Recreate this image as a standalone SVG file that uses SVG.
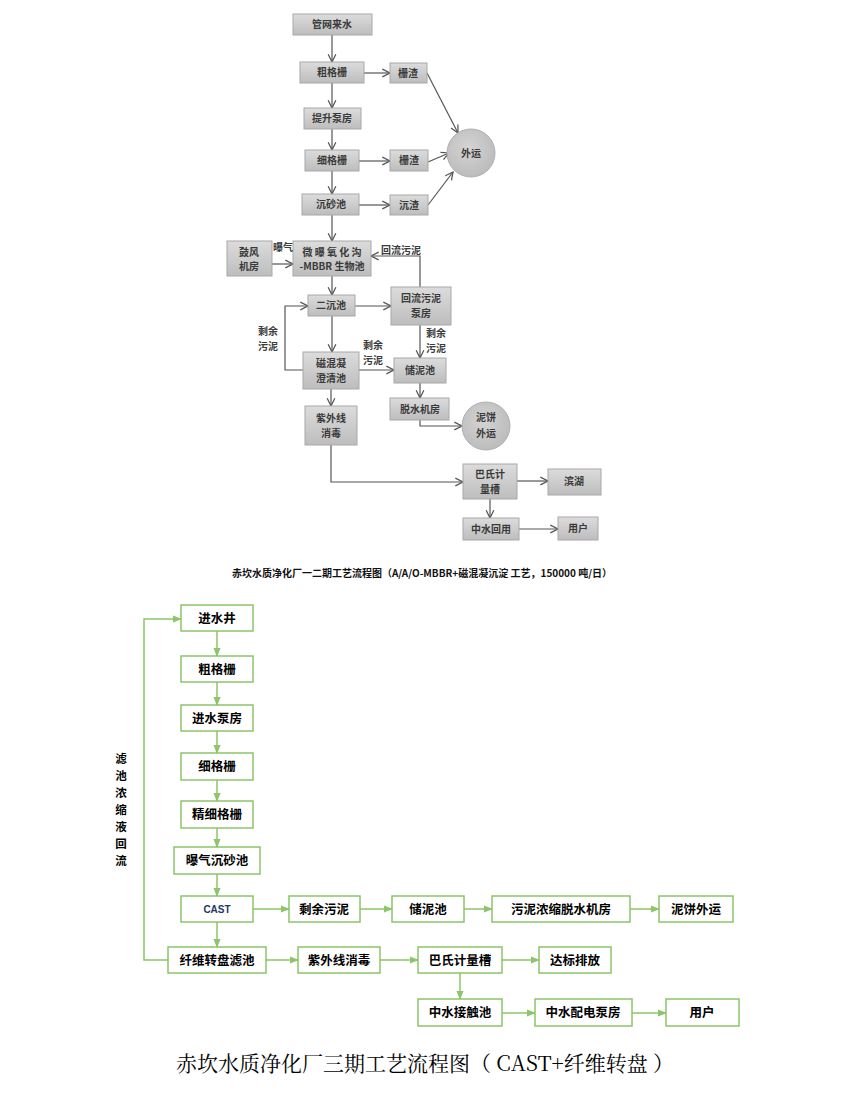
<svg xmlns="http://www.w3.org/2000/svg" width="858" height="1120" viewBox="0 0 858 1120">
<defs>
<linearGradient id="g" x1="0" y1="0" x2="0" y2="1"><stop offset="0" stop-color="#dcdcdc"/><stop offset="1" stop-color="#bdbdbd"/></linearGradient>
<radialGradient id="rg" cx="0.45" cy="0.4" r="0.6"><stop offset="0" stop-color="#d4d4d4"/><stop offset="1" stop-color="#bcbcbc"/></radialGradient>
<marker id="ag" viewBox="0 0 10 10" refX="9" refY="5" markerWidth="8" markerHeight="8" orient="auto"><path d="M1,1 L9,5 L1,9" fill="none" stroke="#555" stroke-width="1.3"/></marker>
<marker id="an" viewBox="0 0 10 10" refX="9" refY="5" markerWidth="6" markerHeight="6" orient="auto"><path d="M0,1 L10,5 L0,9 Z" fill="#8cc56a"/></marker>
</defs>
<style>
.b{fill:url(#g);stroke:#a8a8a8;stroke-width:1}
.c{fill:url(#rg);stroke:#b0b0b0}
.t{font-family:"Noto Sans CJK SC","Liberation Sans",sans-serif;font-size:10px;font-weight:bold;fill:#3a3a3a;text-anchor:middle}
.l{fill:none;stroke:#555;stroke-width:1.2;marker-end:url(#ag)}
.gb{fill:#fff;stroke:#8cc56a;stroke-width:1.5}
.gt{font-family:"Noto Sans CJK SC","Liberation Sans",sans-serif;font-size:12.5px;font-weight:bold;fill:#000;text-anchor:middle}
.gl{fill:none;stroke:#8cc56a;stroke-width:1.5;marker-end:url(#an)}
</style>
<g id="connectors-top">
<path class="l" d="M332,35 V62"/><path class="l" d="M332,83 V108"/><path class="l" d="M332,129 V150"/><path class="l" d="M332,171 V194"/><path class="l" d="M332,215 V241"/>
<path class="l" d="M364,73 H390"/><path class="l" d="M359,161 H390"/><path class="l" d="M359,205 H390"/>
<path class="l" d="M427,73 L458,133"/><path class="l" d="M428,162 L449,153"/><path class="l" d="M428,205 L453,172"/>
<path class="l" d="M272,264 H293"/><path class="l" d="M420,287 V256 H371"/>
<path class="l" d="M332,276 V295"/><path class="l" d="M355,306 H391"/><path class="l" d="M332,316 V352"/>
<path class="l" d="M303,370 H285 V306 H308"/><path class="l" d="M359,370 H394"/><path class="l" d="M420,325 V358"/>
<path class="l" d="M420,383 V398"/><path class="l" d="M420,420 V426 H462"/><path class="l" d="M331,389 V406"/>
<path class="l" d="M331,445 V482 H463"/><path class="l" d="M517,481 H548"/><path class="l" d="M490,499 V518"/><path class="l" d="M519,529 H558"/>
</g>
<g id="n-gwls"><rect class="b" x="293" y="14" width="79" height="21"/><text class="t" x="332" y="28">管网来水</text></g>
<g id="n-cgs"><rect class="b" x="300" y="62" width="64" height="21"/><text class="t" x="332" y="76">粗格栅</text></g>
<g id="n-zz1"><rect class="b" x="390" y="63" width="37" height="20"/><text class="t" x="408" y="77">栅渣</text></g>
<g id="n-tsbf"><rect class="b" x="304" y="108" width="57" height="21"/><text class="t" x="332" y="122">提升泵房</text></g>
<g id="n-xgs"><rect class="b" x="305" y="150" width="54" height="21"/><text class="t" x="332" y="164">细格栅</text></g>
<g id="n-zz2"><rect class="b" x="390" y="150" width="38" height="21"/><text class="t" x="409" y="164">栅渣</text></g>
<g id="n-csc"><rect class="b" x="302" y="194" width="57" height="21"/><text class="t" x="331" y="208">沉砂池</text></g>
<g id="n-cz"><rect class="b" x="390" y="195" width="38" height="20"/><text class="t" x="409" y="209">沉渣</text></g>
<g id="n-wy"><circle class="c" cx="471" cy="153" r="24"/><text class="t" x="471" y="157">外运</text></g>
<g id="n-gfjf"><rect class="b" x="227" y="241" width="45" height="35"/><text class="t" x="249" y="256">鼓风</text><text class="t" x="249" y="270">机房</text></g>
<g id="n-wbyh"><rect class="b" x="293" y="241" width="78" height="35"/><text class="t" x="332" y="256">微 曝 氧 化 沟</text><text class="t" x="332" y="270">-MBBR 生物池</text></g>
<text class="t" x="283" y="251">曝气</text>
<text class="t" x="401" y="254">回流污泥</text>
<g id="n-ecc"><rect class="b" x="308" y="295" width="47" height="21"/><text class="t" x="331" y="309">二沉池</text></g>
<g id="n-hlwn"><rect class="b" x="391" y="287" width="60" height="38"/><text class="t" x="421" y="302">回流污泥</text><text class="t" x="421" y="317">泵房</text></g>
<text class="t" x="268" y="335">剩余</text><text class="t" x="268" y="350">污泥</text>
<text class="t" x="373" y="349">剩余</text><text class="t" x="373" y="364">污泥</text>
<text class="t" x="436" y="337">剩余</text><text class="t" x="436" y="352">污泥</text>
<g id="n-chn"><rect class="b" x="303" y="352" width="56" height="37"/><text class="t" x="331" y="367">磁混凝</text><text class="t" x="331" y="382">澄清池</text></g>
<g id="n-cnc"><rect class="b" x="394" y="358" width="52" height="25"/><text class="t" x="420" y="374">储泥池</text></g>
<g id="n-tsjf"><rect class="b" x="390" y="398" width="59" height="22"/><text class="t" x="420" y="413">脱水机房</text></g>
<g id="n-nbwy"><circle class="c" cx="486" cy="426" r="24"/><text class="t" x="486" y="421">泥饼</text><text class="t" x="486" y="437">外运</text></g>
<g id="n-zwx"><rect class="b" x="305" y="406" width="52" height="39"/><text class="t" x="331" y="422">紫外线</text><text class="t" x="331" y="437">消毒</text></g>
<g id="n-bs"><rect class="b" x="463" y="464" width="54" height="35"/><text class="t" x="490" y="478">巴氏计</text><text class="t" x="490" y="493">量槽</text></g>
<g id="n-bh"><rect class="b" x="548" y="469" width="53" height="26"/><text class="t" x="574" y="485">滨湖</text></g>
<g id="n-zshy"><rect class="b" x="463" y="518" width="56" height="22"/><text class="t" x="491" y="533">中水回用</text></g>
<g id="n-yh1"><rect class="b" x="558" y="517" width="40" height="23"/><text class="t" x="578" y="532">用户</text></g>
<text x="422" y="577" font-family="Noto Sans CJK SC,Liberation Sans,sans-serif" font-size="10" font-weight="bold" fill="#111" text-anchor="middle">赤坎水质净化厂一二期工艺流程图（A/A/O-MBBR+磁混凝沉淀 工艺，150000 吨/日）</text>

<g id="connectors-bottom">
<path class="gl" d="M217,631 V656"/><path class="gl" d="M217,682 V705"/><path class="gl" d="M217,731 V753"/><path class="gl" d="M217,780 V801"/><path class="gl" d="M217,828 V847"/><path class="gl" d="M217,874 V896"/><path class="gl" d="M217,922 V947"/>
<path class="gl" d="M253,909 H289"/><path class="gl" d="M360,909 H392"/><path class="gl" d="M464,909 H492"/><path class="gl" d="M630,909 H659"/>
<path class="gl" d="M266,960 H298"/><path class="gl" d="M380,960 H418"/><path class="gl" d="M502,960 H539"/>
<path class="gl" d="M460,973 V999"/><path class="gl" d="M502,1013 H535"/><path class="gl" d="M632,1013 H666"/>
<path class="gl" d="M168,960 H144 V619 H181"/>
</g>
<g id="b-jsj"><rect class="gb" x="181" y="605" width="72" height="26"/><text class="gt" x="217" y="623">进水井</text></g>
<g id="b-cgs"><rect class="gb" x="181" y="656" width="72" height="26"/><text class="gt" x="217" y="674">粗格栅</text></g>
<g id="b-jsbf"><rect class="gb" x="181" y="705" width="72" height="26"/><text class="gt" x="217" y="723">进水泵房</text></g>
<g id="b-xgs"><rect class="gb" x="181" y="753" width="72" height="27"/><text class="gt" x="217" y="771">细格栅</text></g>
<g id="b-jxgs"><rect class="gb" x="181" y="801" width="72" height="27"/><text class="gt" x="217" y="819">精细格栅</text></g>
<g id="b-bqcsc"><rect class="gb" x="174" y="847" width="86" height="27"/><text class="gt" x="217" y="865">曝气沉砂池</text></g>
<g id="b-cast"><rect class="gb" x="181" y="896" width="72" height="26"/><text x="217" y="913" font-family="Liberation Sans,sans-serif" font-size="10" font-weight="bold" fill="#1f3864" text-anchor="middle">CAST</text></g>
<g id="b-sywn"><rect class="gb" x="289" y="896" width="71" height="26"/><text class="gt" x="324" y="914">剩余污泥</text></g>
<g id="b-cnc"><rect class="gb" x="392" y="896" width="72" height="26"/><text class="gt" x="428" y="914">储泥池</text></g>
<g id="b-wnns"><rect class="gb" x="492" y="896" width="138" height="26"/><text class="gt" x="561" y="914">污泥浓缩脱水机房</text></g>
<g id="b-nbwy"><rect class="gb" x="659" y="896" width="74" height="26"/><text class="gt" x="696" y="914">泥饼外运</text></g>
<g id="b-xwzp"><rect class="gb" x="168" y="947" width="98" height="26"/><text class="gt" x="217" y="965">纤维转盘滤池</text></g>
<g id="b-zwx"><rect class="gb" x="298" y="947" width="82" height="26"/><text class="gt" x="339" y="965">紫外线消毒</text></g>
<g id="b-bs"><rect class="gb" x="418" y="947" width="84" height="26"/><text class="gt" x="460" y="965">巴氏计量槽</text></g>
<g id="b-dbpf"><rect class="gb" x="539" y="947" width="72" height="26"/><text class="gt" x="575" y="965">达标排放</text></g>
<g id="b-zsjc"><rect class="gb" x="418" y="999" width="84" height="27"/><text class="gt" x="460" y="1017">中水接触池</text></g>
<g id="b-zspd"><rect class="gb" x="535" y="999" width="97" height="27"/><text class="gt" x="583" y="1017">中水配电泵房</text></g>
<g id="b-yh"><rect class="gb" x="666" y="999" width="73" height="27"/><text class="gt" x="702" y="1017">用户</text></g>
<g id="return-label" font-family="Noto Sans CJK SC,Liberation Sans,sans-serif" font-size="11.5" font-weight="bold" fill="#000" text-anchor="middle">
<text x="121" y="763">滤</text><text x="121" y="780">池</text><text x="121" y="797">浓</text><text x="121" y="814">缩</text><text x="121" y="831">液</text><text x="121" y="848">回</text><text x="121" y="865">流</text>
</g>
<text x="425" y="1071" font-family="Noto Serif CJK SC,Noto Sans CJK SC,Liberation Serif,serif" font-size="21" fill="#000" text-anchor="middle">赤坎水质净化厂三期工艺流程图（ CAST+纤维转盘 ）</text>
</svg>
